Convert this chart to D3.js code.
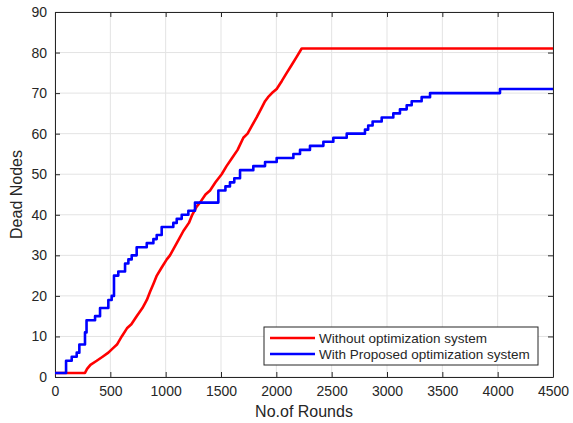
<!DOCTYPE html>
<html>
<head>
<meta charset="utf-8">
<script src="https://cdn.jsdelivr.net/npm/d3@7"></script>
<style>
  body { margin: 0; background: #fff; }
  svg text { font-family: "Liberation Sans", Arial, sans-serif; fill: #262626; }
</style>
</head>
<body>
<div id="chart"></div>
<script>
// Series data: [round, dead nodes]
const withoutOpt = [
  [0, 1], [271, 1], [290, 2], [320, 3], [377, 4], [430, 5], [482, 6], [520, 7], [560, 8],
  [603, 10], [650, 12], [690, 13], [738, 15], [790, 17], [830, 19], [859, 21],
  [890, 23], [920, 25], [964, 27], [1010, 29], [1039, 30], [1080, 32], [1120, 34],
  [1160, 36], [1210, 38], [1240, 40], [1280, 42], [1310, 43], [1360, 45], [1401, 46],
  [1450, 48], [1506, 50], [1550, 52], [1600, 54], [1650, 56], [1702, 59], [1740, 60],
  [1780, 62], [1822, 64], [1860, 66], [1898, 68], [1925, 69], [1960, 70], [2003, 71],
  [2050, 73], [2094, 75], [2140, 77], [2185, 79], [2229, 81], [4500, 81]
];
const withOpt = [
  [0, 1], [100, 4], [151, 5], [196, 6], [220, 8], [271, 11], [285, 14], [316, 14],
  [362, 15], [407, 17], [482, 19], [512, 20], [533, 25], [572, 26], [633, 28],
  [663, 29], [693, 30], [738, 32], [829, 33], [889, 34], [919, 35], [964, 37],
  [1069, 38], [1100, 39], [1145, 40], [1205, 41], [1265, 43], [1476, 46],
  [1540, 47], [1581, 48], [1620, 49], [1672, 51], [1792, 52], [1898, 53],
  [2003, 54], [2154, 55], [2214, 56], [2304, 57], [2425, 58], [2515, 59],
  [2636, 60], [2801, 61], [2830, 62], [2870, 63], [2952, 64], [3057, 65],
  [3117, 66], [3178, 67], [3223, 68], [3313, 69], [3389, 70], [4021, 71], [4500, 71]
];
const seriesNames = ["Without optimization system", "With Proposed optimization system"];
const seriesColors = ["#ff0000", "#0000ff"];
const xTicks = [0, 500, 1000, 1500, 2000, 2500, 3000, 3500, 4000, 4500];
const yTicks = [0, 10, 20, 30, 40, 50, 60, 70, 80, 90];

const W = 573, H = 423;
const margin = { top: 12, right: 20, bottom: 46, left: 55 };
const width = W - margin.left - margin.right;
const height = H - margin.top - margin.bottom;

const svg = d3.select("#chart").append("svg")
  .attr("width", W).attr("height", H);
const g = svg.append("g").attr("transform", `translate(${margin.left},${margin.top})`);

const x = d3.scaleLinear().domain([0, 4500]).range([0, width]);
const y = d3.scaleLinear().domain([0, 90]).range([height, 0]);

// Grid
g.append("g").selectAll("line").data(xTicks).enter().append("line")
  .attr("x1", d => x(d)).attr("x2", d => x(d)).attr("y1", 0).attr("y2", height)
  .attr("stroke", "#e3e3e3").attr("stroke-width", 1);
g.append("g").selectAll("line").data(yTicks).enter().append("line")
  .attr("y1", d => y(d)).attr("y2", d => y(d)).attr("x1", 0).attr("x2", width)
  .attr("stroke", "#e3e3e3").attr("stroke-width", 1);

// Axes with inward ticks
const fmt = d3.format("d");
const xAxis = g.append("g").attr("transform", `translate(0,${height})`)
  .call(d3.axisBottom(x).tickValues(xTicks).tickFormat(fmt).tickSizeInner(-5).tickSizeOuter(0).tickPadding(9));
const yAxis = g.append("g")
  .call(d3.axisLeft(y).tickValues(yTicks).tickFormat(fmt).tickSizeInner(-5).tickSizeOuter(0).tickPadding(8));
[xAxis, yAxis].forEach(a => {
  a.select(".domain").attr("stroke", "#262626");
  a.selectAll(".tick line").attr("stroke", "#262626");
  a.selectAll(".tick text").attr("font-size", 14).attr("fill", "#262626")
    .attr("font-family", "Liberation Sans, Arial, sans-serif");
});
// top and right ticks
g.append("g").call(d3.axisTop(x).tickValues(xTicks).tickSizeInner(-5).tickSizeOuter(0).tickFormat(""))
  .call(a => a.select(".domain").attr("stroke", "#262626"))
  .call(a => a.selectAll(".tick line").attr("stroke", "#262626"));
g.append("g").attr("transform", `translate(${width},0)`)
  .call(d3.axisRight(y).tickValues(yTicks).tickSizeInner(-5).tickSizeOuter(0).tickFormat(""))
  .call(a => a.select(".domain").attr("stroke", "#262626"))
  .call(a => a.selectAll(".tick line").attr("stroke", "#262626"));

// Lines: red rises in tiny steps (drawn straight), blue in visible steps
const lineLinear = d3.line().x(d => x(d[0])).y(d => y(d[1]));
const lineStep = d3.line().x(d => x(d[0])).y(d => y(d[1])).curve(d3.curveStepAfter);
[withoutOpt, withOpt].forEach((data, i) => {
  g.append("path").datum(data)
    .attr("fill", "none")
    .attr("stroke", seriesColors[i])
    .attr("stroke-width", 2.6)
    .attr("stroke-linejoin", "round")
    .attr("d", i === 0 ? lineLinear : lineStep);
});

// Axis labels
svg.append("text")
  .attr("x", margin.left + width / 2).attr("y", 417)
  .attr("text-anchor", "middle").attr("font-size", 16)
  .text("No.of Rounds");
svg.append("text")
  .attr("transform", `translate(22,${margin.top + height / 2}) rotate(-90)`)
  .attr("text-anchor", "middle").attr("font-size", 16)
  .text("Dead Nodes");

// Legend
const lg = svg.append("g").attr("transform", "translate(264,327)");
lg.append("rect").attr("width", 274).attr("height", 38)
  .attr("fill", "#fff").attr("stroke", "#262626").attr("stroke-width", 1);
seriesNames.forEach((name, i) => {
  const yy = 11 + i * 16;
  lg.append("line").attr("x1", 6).attr("x2", 51).attr("y1", yy).attr("y2", yy)
    .attr("stroke", seriesColors[i]).attr("stroke-width", 2.6);
  lg.append("text").attr("x", 55).attr("y", yy + 5).attr("font-size", 13.5)
    .attr("fill", "#000").text(name);
});
</script>
</body>
</html>
